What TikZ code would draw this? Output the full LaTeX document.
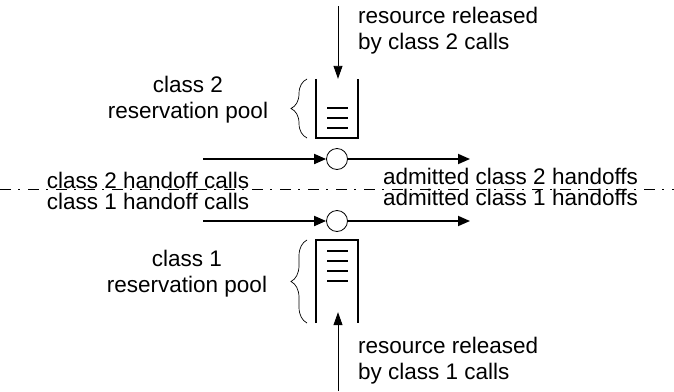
\documentclass[tikz,border=0pt]{standalone}
\usepackage{fontspec}
\setmainfont{Liberation Sans}
\usetikzlibrary{arrows.meta, positioning, decorations.pathreplacing}

\begin{document}
\begin{tikzpicture}[
  x=1pt, y=-1pt,
  lbl/.style={font=\fontsize{22.5}{26}\selectfont, align=center, inner sep=0pt},
  gate/.style={draw, circle, minimum size=21pt, inner sep=0pt, line width=0.8pt, fill=white},
  pool/.style={minimum width=42pt, inner sep=0pt},
  flow/.style={-{Triangle[length=12pt, width=10pt]}, line width=1.8pt},
  feed/.style={-{Triangle[length=13pt, width=9pt]}, line width=0.9pt},
  wall/.style={line width=1.8pt},
  tick/.style={line width=1.4pt},
  brc/.style={decorate, decoration={brace, amplitude=16pt}, line width=0.7pt},
  border/.style={dash pattern=on 11pt off 7pt on 2pt off 8pt, line width=0.9pt}
]
\useasboundingbox (0,0) rectangle (674,391);

% boundary between the two classes
\draw[border] (0,189) -- (674,189);

% gates
\node[gate] (gate2) at (337,159) {};
\node[gate] (gate1) at (337,221) {};

% reservation pools
\node[pool, minimum height=59pt] (pool2) at (337,108.5) {};
\node[pool, minimum height=83pt] (pool1) at (337,281.5) {};
\draw[wall] (pool2.north west) -- (pool2.south west) -- (pool2.south east) -- (pool2.north east);
\draw[wall] (pool1.south west) -- (pool1.north west) -- (pool1.north east) -- (pool1.south east);
\foreach \y in {108,118,128}
  \draw[tick] (327,\y) -- (348,\y);
\foreach \y in {251,261,271,281}
  \draw[tick] (327,\y) -- (348,\y);

\draw[brc] (307,138) -- (307,79);
\draw[brc] (307,323) -- (307,240);

% labels
\node[lbl, anchor=west, align=left] (rel2) at (358,30.5) {resource released\\by class 2 calls};
\node[lbl, anchor=west, align=left] (rel1) at (358,360.5) {resource released\\by class 1 calls};
\node[lbl] (res2) at (188,100) {class 2\\reservation pool};
\node[lbl] (res1) at (187,273.5) {class 1\\reservation pool};
\node[lbl] (hand2) at (148,180.5) {class 2 handoff calls};
\node[lbl] (hand1) at (148,201) {class 1 handoff calls};
\node[lbl, anchor=west] (adm2) at (383,176) {admitted class 2 handoffs};
\node[lbl, anchor=west] (adm1) at (383,197) {admitted class 1 handoffs};

% arrivals and departures
\coordinate (in2) at (203,159);
\coordinate (out2) at (470,159);
\coordinate (in1) at (203,221);
\coordinate (out1) at (470,221);
\draw[flow] (in2) -- (gate2);
\draw[flow] (gate2) -- (out2);
\draw[flow] (in1) -- (gate1);
\draw[flow] (gate1) -- (out1);

% released resources
\coordinate (src2) at (338,6);
\coordinate (src1) at (338,391);
\draw[feed] (src2) -- (src2 |- pool2.north);
\draw[feed] (src1) -- ([yshift=11pt]src1 |- pool1.south);
\end{tikzpicture}
\end{document}
